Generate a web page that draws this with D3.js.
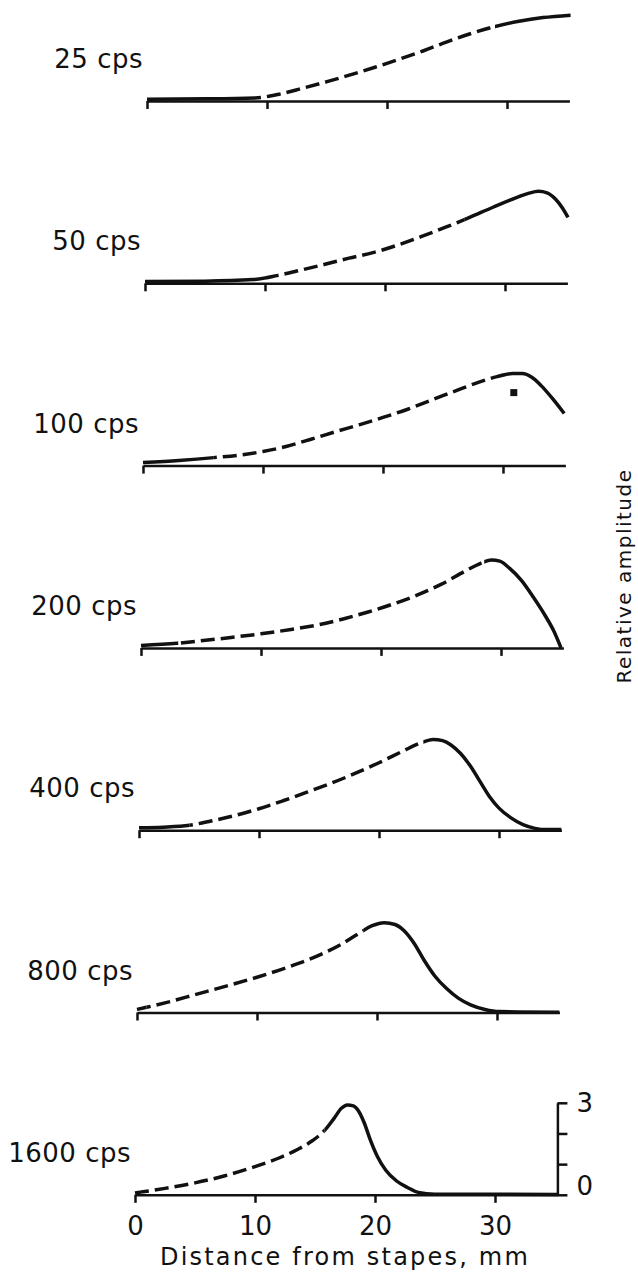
<!DOCTYPE html>
<html>
  <head>
    <meta charset="utf-8" />
    <title>Travelling wave envelopes</title>
    <script src="https://d3js.org/d3.v7.min.js"></script>
    <style>
      body {
        margin: 0;
        background: #fff;
        font-family: "DejaVu Sans", sans-serif;
      }
      svg {
        display: block;
        background: #fff;
      }
      .axis path,
      .axis line {
        stroke: #111;
        stroke-width: 2.5;
      }
      .axis text {
        font-family: "DejaVu Sans", sans-serif;
        font-size: 26px;
        fill: #111;
      }
      .curve {
        fill: none;
        stroke: #111;
        stroke-width: 3.5;
        stroke-linejoin: round;
      }
      .label {
        font-size: 26px;
        fill: #111;
        letter-spacing: 0.5px;
      }
    </style>
  </head>
  <body>
    <svg width="638" height="1282"></svg>

    <script>
      // panel labels (top to bottom)
      const labels = ["25 cps", "50 cps", "100 cps", "200 cps", "400 cps", "800 cps", "1600 cps"];

      // envelopes: [distance from stapes (mm), relative amplitude]
      const cps25 = [[0, 0.06], [5, 0.07], [9, 0.1], [11, 0.22], [13, 0.42], [15, 0.63], [17, 0.86],
        [19, 1.1], [21, 1.36], [23, 1.63], [25, 1.93], [27, 2.2], [29, 2.43], [31, 2.6], [33, 2.72],
        [35.3, 2.8]];
      const cps50 = [[0, 0.06], [5, 0.07], [9, 0.12], [11, 0.25], [13, 0.43], [15, 0.62], [17, 0.82],
        [19, 1.0], [21, 1.24], [23, 1.52], [25, 1.82], [27, 2.14], [29, 2.48], [31, 2.8], [32, 2.94],
        [32.8, 3.0], [33.5, 2.95], [34.2, 2.75], [34.8, 2.45], [35.25, 2.15]];
      const cps100 = [[0, 0.1], [3, 0.17], [5.9, 0.26], [8, 0.34], [10, 0.46], [12, 0.63], [14, 0.86],
        [16, 1.1], [18, 1.33], [20, 1.57], [22, 1.83], [24, 2.13], [26, 2.43], [28, 2.72], [29.5, 2.9],
        [30.8, 3.0], [31.6, 3.0], [32.4, 2.88], [33.2, 2.6], [34.2, 2.15], [35.1, 1.7]];
      const cps200 = [[0, 0.08], [3, 0.15], [5, 0.23], [7.5, 0.34], [10, 0.46], [12.5, 0.6], [15, 0.77],
        [17, 0.96], [19, 1.18], [21, 1.43], [23, 1.72], [25, 2.07], [27, 2.5], [28.3, 2.76], [29.2, 2.87],
        [29.9, 2.83], [30.7, 2.6], [31.7, 2.2], [32.7, 1.65], [33.7, 1.04], [34.4, 0.55], [35, 0.0]];
      const cps400 = [[0, 0.08], [2, 0.1], [4.2, 0.16], [6, 0.3], [8, 0.48], [10, 0.7], [12, 0.96],
        [14, 1.24], [16, 1.53], [18, 1.85], [20, 2.2], [22, 2.58], [23.5, 2.85], [24.5, 2.96],
        [25.3, 2.92], [26, 2.78], [26.8, 2.5], [27.6, 2.1], [28.4, 1.6], [29.2, 1.1], [30, 0.72],
        [31, 0.4], [32, 0.18], [33, 0.06], [34, 0.02], [35.2, 0.02]];
      const cps800 = [[0, 0.1], [2.5, 0.33], [5, 0.6], [7.5, 0.87], [10, 1.15], [12.5, 1.47], [15, 1.84],
        [17, 2.22], [18.5, 2.58], [19.6, 2.83], [20.6, 2.93], [21.5, 2.87], [22.3, 2.65], [23.1, 2.25],
        [23.9, 1.72], [24.8, 1.2], [25.8, 0.78], [26.8, 0.46], [27.8, 0.25], [29, 0.1], [30.2, 0.03],
        [35.2, 0.01]];
      const cps1600 = [[0, 0.06], [2.5, 0.21], [5, 0.39], [7.5, 0.62], [10, 0.92], [12, 1.2], [13.5, 1.47],
        [14.8, 1.77], [15.8, 2.1], [16.6, 2.5], [17.2, 2.82], [17.7, 2.93], [18.2, 2.9], [18.6, 2.75],
        [19.1, 2.35], [19.6, 1.8], [20.2, 1.25], [20.9, 0.8], [21.8, 0.45], [22.7, 0.24], [23.6, 0.08],
        [25, 0.02], [35.2, 0.01]];

      // dashed (estimated) stretch of each envelope, in mm
      const dashStart = [9, 10, 5.9, 3.1, 4.2, 0.8, 0.5];
      const dashEnd = [29, 26.6, 30, 28.6, 23.7, 18.9, 15.8];

      // measured point on the 100 cps panel
      const dot100 = [30.9, 2.38];

      const xTicks = [0, 10, 20, 30];
      const yTicks = [0, 1, 2, 3];
      const xDomain = [0, 35.2];
      const yDomain = [0, 3];

      const series = [cps25, cps50, cps100, cps200, cps400, cps800, cps1600];

      const svg = d3.select("svg");

      const panelTop = 101;   // baseline of first panel
      const panelStep = 182.3;
      const plotW = 422.4;
      const plotH = 92;

      const x = d3.scaleLinear().domain(xDomain).range([0, plotW]);
      const y = d3.scaleLinear().domain(yDomain).range([0, -plotH]);

      const line = d3.line()
        .x(d => x(d[0]))
        .y(d => y(d[1]))
        .curve(d3.curveMonotoneX);

      const defs = svg.append("defs");

      series.forEach((data, i) => {
        const base = panelTop + panelStep * i;
        const left = 147 - 2 * i;   // scan is slightly skewed
        const g = svg.append("g").attr("transform", `translate(${left},${base})`);
        const last = i === series.length - 1;

        // label
        g.append("text")
          .attr("class", "label")
          .attr("x", -4)
          .attr("y", -33)
          .attr("text-anchor", "end")
          .text(labels[i]);

        // x axis
        const xAxis = d3.axisBottom(x)
          .tickValues(xTicks)
          .tickSize(8)
          .tickSizeOuter(0)
          .tickPadding(14);
        if (!last) xAxis.tickFormat("");
        g.append("g").attr("class", "axis").call(xAxis);

        // clip regions: solid / dashed / solid
        const parts = [
          [-10, x(dashStart[i]), null],
          [x(dashStart[i]), x(dashEnd[i]), "14,6"],
          [x(dashEnd[i]), plotW + 20, null]
        ];
        parts.forEach((p, j) => {
          const id = `clip-${i}-${j}`;
          defs.append("clipPath").attr("id", id)
            .append("rect")
            .attr("x", p[0]).attr("y", -plotH - 20)
            .attr("width", p[1] - p[0]).attr("height", plotH + 30);
          g.append("path")
            .datum(data)
            .attr("class", "curve")
            .attr("clip-path", `url(#${id})`)
            .attr("stroke-dasharray", p[2])
            .attr("d", line);
        });

        if (i === 2) {
          g.append("rect")
            .attr("x", x(dot100[0]) - 3.5)
            .attr("y", y(dot100[1]) - 3.5)
            .attr("width", 7)
            .attr("height", 7)
            .attr("fill", "#111");
        }

        if (last) {
          const yAxis = d3.axisRight(y)
            .tickValues(yTicks)
            .tickSize(10)
            .tickSizeOuter(0)
            .tickPadding(9)
            .tickFormat(d => (d === 0 || d === 3) ? d : "");
          const ya = g.append("g")
            .attr("class", "axis")
            .attr("transform", `translate(${plotW},0)`)
            .call(yAxis);
          ya.selectAll(".tick text").filter(d => d === 0).attr("dy", "-0.03em");

          g.append("text")
            .attr("class", "label")
            .attr("x", x(17.5))
            .attr("y", 70)
            .attr("text-anchor", "middle")
            .style("font-size", "24px")
            .style("letter-spacing", "2.2px")
            .text("Distance from stapes, mm");
        }
      });

      // shared y title
      svg.append("text")
        .attr("class", "label")
        .attr("transform", "translate(631,576) rotate(-90)")
        .attr("text-anchor", "middle")
        .style("font-size", "20px")
        .style("letter-spacing", "1.5px")
        .text("Relative amplitude");
    </script>
  </body>
</html>
